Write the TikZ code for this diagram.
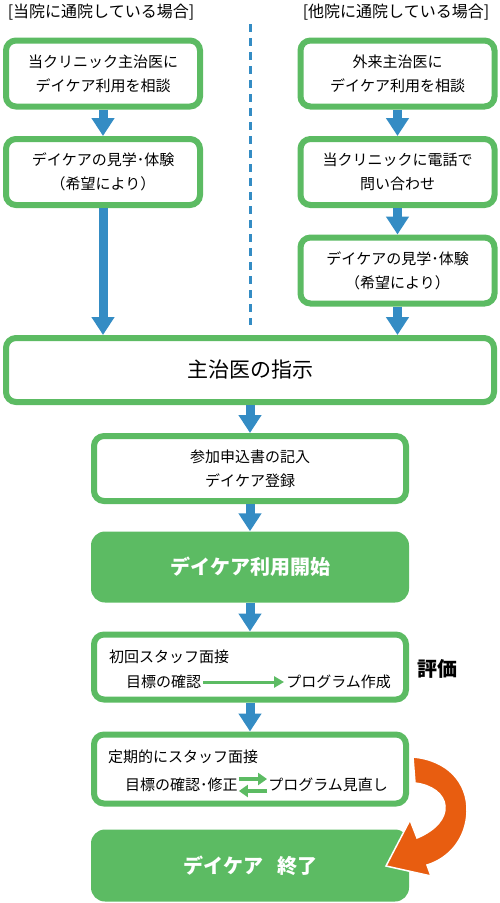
\documentclass[tikz,border=0pt]{standalone}
\usepackage{fontspec}
\newfontfamily\jp{Noto Sans CJK JP}
\usetikzlibrary{arrows.meta,positioning}
\definecolor{boxgreen}{RGB}{92,187,99}
\definecolor{flowblue}{RGB}{52,140,196}
\definecolor{looporange}{RGB}{232,93,16}

\begin{document}
\begin{tikzpicture}[x=1pt, y=-1pt, node distance=98.5pt,
    every node/.style={font=\jp\fontsize{15}{24}\selectfont, inner sep=0pt},
    head/.style={font=\jp\fontsize{16}{20}\selectfont},
    box/.style={draw=boxgreen, line width=6pt, rounded corners=10pt, fill=white, align=center},
    narrow/.style={box, minimum width=194pt, minimum height=66pt},
    wide/.style={box, minimum width=312pt, minimum height=65pt},
    startend/.style={fill=boxgreen, rounded corners=14pt, minimum width=318pt, minimum height=71pt,
        text=white, font=\jp\bfseries\fontsize{20}{24}\selectfont},
    down/.style={draw=flowblue, line width=9pt, -{Triangle[length=18pt,width=22pt]}},
    flow/.style={draw=boxgreen, line width=3pt, -{Triangle[length=10pt,width=11pt]}},
    swap/.style={draw=boxgreen, line width=4pt, -{Triangle[length=9pt,width=12pt]}},
    ]
\useasboundingbox (0,0) rectangle (500,903);

% two starting cases
\node[head] (headown) at (101,12) {[当院に通院している場合]};
\node[head] (headoth) at (396,12) {[他院に通院している場合]};
\draw[flowblue, line width=3pt, dash pattern=on 8pt off 6pt] (250,24) -- (250,325);

\node[narrow] (own1) at (103,73.5) {当クリニック主治医に\\デイケア利用を相談};
\node[narrow, below of=own1] (own2) {デイケアの見学･体験\\（希望により）};

\node[narrow] (oth1) at (397.5,73.5) {外来主治医に\\デイケア利用を相談};
\node[narrow, below of=oth1] (oth2) {当クリニックに電話で\\問い合わせ};
\node[narrow, below of=oth2] (oth3) {デイケアの見学･体験\\（希望により）};

% common flow
\node[box, minimum width=488pt, minimum height=64pt, font=\jp\fontsize{21}{24}\selectfont] (order) at (250,370) {主治医の指示};
\node[wide, below of=order] (apply) {参加申込書の記入\\デイケア登録};
\node[startend, below of=apply] (start) {デイケア利用開始};
\node[wide, below of=start, node distance=100pt] (first) {};
\node[wide, below of=first, minimum height=69pt, node distance=102pt] (regular) {};
\node[startend, below of=regular, minimum height=72pt, node distance=96.5pt] (finish) {デイケア\hspace{14pt}終了};

\node[anchor=west] (visit1) at (109,657) {初回スタッフ面接};
\node[anchor=west, inner sep=2pt] (goal1) at (124,682) {目標の確認};
\node[anchor=east, inner sep=2pt] (plan1) at (393,682) {プログラム作成};
\node[font=\jp\bfseries\fontsize{20}{24}\selectfont] (eval) at (437,669) {評価};

\node[anchor=west] (visit2) at (108,757) {定期的にスタッフ面接};
\node[anchor=west, inner sep=1pt] (goal2) at (124,785) {目標の確認･修正};
\node[anchor=east, inner sep=1pt] (plan2) at (389,785) {プログラム見直し};

\path
(own1)  edge[down] (own2)
(own2)  edge[down] (own2 |- order.north)
(oth1)  edge[down] (oth2)
(oth2)  edge[down] (oth3)
(oth3)  edge[down] (oth3 |- order.north)
(order) edge[down] (apply)
(apply) edge[down] (start)
(start) edge[down] (first)
(first) edge[down] (regular)
(goal1) edge[flow] (plan1)
([yshift=6pt]goal2.east)  edge[swap] ([yshift=6pt]plan2.west)
([yshift=-6pt]plan2.west) edge[swap] ([yshift=-6pt]goal2.east)
;

% loop back to the end
\filldraw[fill=looporange, draw=white, line width=1.5pt]
  (413,757) .. controls (447,760) and (468,782) .. (467,812)
  .. controls (466,838) and (450,858) .. (427,865)
  -- (431,876) -- (386,866) -- (410,820) -- (417,838)
  .. controls (436,830) and (446,818) .. (445,806)
  .. controls (444,794) and (432,785) .. (415,783) -- cycle;
\end{tikzpicture}
\end{document}
